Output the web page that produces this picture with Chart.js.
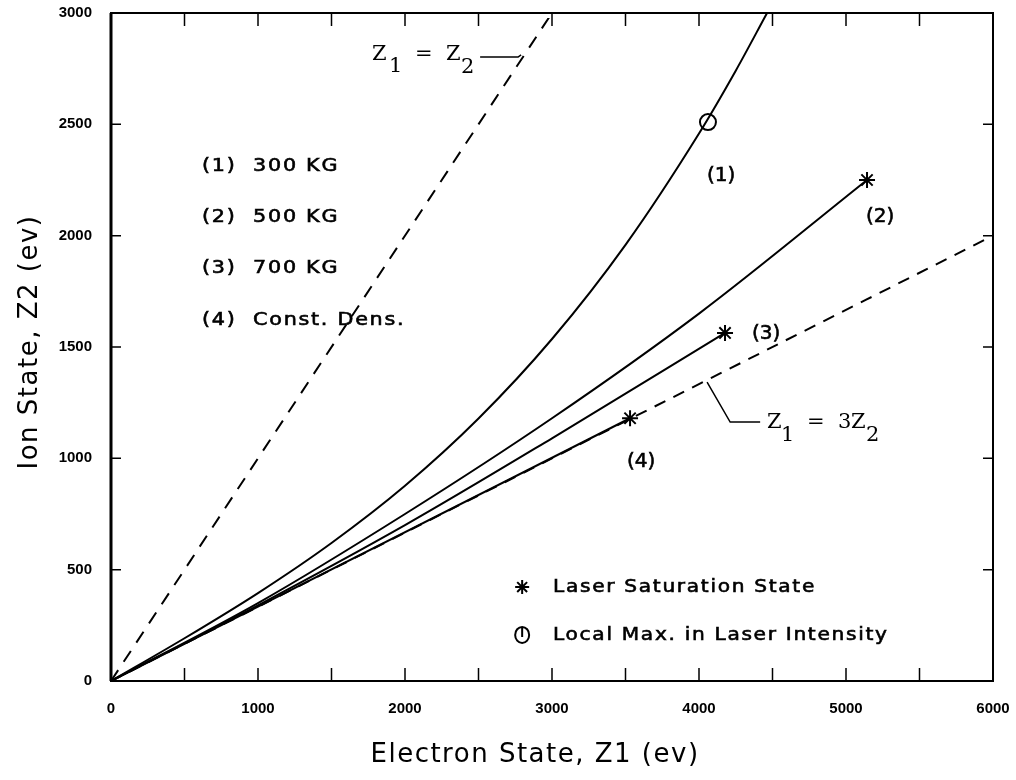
<!DOCTYPE html>
<html>
<head>
<meta charset="utf-8">
<script src="https://cdn.jsdelivr.net/npm/chart.js@4.4.1/dist/chart.umd.min.js"></script>
<style>
  html, body { margin: 0; padding: 0; background: #fff; }
  #wrap { width: 1016px; height: 780px; }
</style>
</head>
<body>
<div id="wrap"><canvas id="chart" width="1016" height="780"></canvas></div>
<script>
// tick labels
const xTickLabels = [0, 1000, 2000, 3000, 4000, 5000, 6000];
const yTickLabels = [0, 500, 1000, 1500, 2000, 2500, 3000];

// (1) 300 KG
const c1X = [0, 500, 1000, 1500, 2000, 2500, 3000, 3500, 4000, 4250, 4463];
const c1Y = [0, 192, 395, 620, 877, 1179, 1536, 1959, 2459, 2741, 3000];
// (2) 500 KG
const c2X = [0, 1000, 2000, 3000, 4000, 5143];
const c2Y = [0, 350, 750, 1180, 1650, 2250];
// (3) 700 KG
const c3X = [0, 1000, 2000, 3000, 4177];
const c3Y = [0, 340, 700, 1090, 1563];
// (4) Const. Dens.
const c4X = [0, 3531];
const c4Y = [0, 1180];
// Z1 = Z2 and Z1 = 3Z2
const eqX = [0, 3000];
const eqY = [0, 3000];
const thirdX = [0, 6000];
const thirdY = [0, 2000];
// Laser saturation state (stars) and local max in laser intensity (circle)
const satX = [5143, 4177, 3531];
const satY = [2250, 1563, 1180];
const maxX = [4061];
const maxY = [2510];

const legendLines = ['(1)  300 KG', '(2)  500 KG', '(3)  700 KG', '(4)  Const. Dens.'];
const curveNames = ['(1)', '(2)', '(3)', '(4)'];

function pts(xs, ys) {
  return xs.map((x, i) => ({ x: x, y: ys[i] }));
}

function lineSet(xs, ys, dash) {
  return {
    data: pts(xs, ys),
    showLine: true,
    borderColor: '#000',
    borderWidth: 2,
    borderDash: dash || [],
    pointRadius: 0,
    cubicInterpolationMode: 'monotone',
    fill: false
  };
}

function drawText(ctx, str, x, y, o) {
  ctx.save();
  ctx.font = o.font;
  ctx.letterSpacing = (o.ls || 0) + 'px';
  ctx.textAlign = o.align || 'left';
  ctx.textBaseline = o.baseline || 'middle';
  ctx.fillStyle = '#000';
  ctx.strokeStyle = '#000';
  ctx.translate(x, y);
  if (o.rot) ctx.rotate(o.rot);
  ctx.scale(o.sx || 1, 1);
  ctx.fillText(str, 0, 0);
  if (o.bold) {
    ctx.lineWidth = o.bold;
    ctx.strokeText(str, 0, 0);
  }
  ctx.restore();
}

const labelFont = '18px "DejaVu Sans"';
const zFont = '21px "DejaVu Serif"';

const decorations = {
  id: 'decorations',
  afterDatasetsDraw(chart) {
    const ctx = chart.ctx;
    const a = chart.chartArea;
    const xs = chart.scales.x;
    const ys = chart.scales.y;
    const px = v => xs.getPixelForValue(v);
    const py = v => ys.getPixelForValue(v);

    ctx.save();
    ctx.strokeStyle = '#000';
    // frame
    ctx.lineWidth = 2;
    ctx.strokeRect(a.left, a.top, a.right - a.left, a.bottom - a.top);
    ctx.lineWidth = 3;
    ctx.beginPath();
    ctx.moveTo(a.left, a.top);
    ctx.lineTo(a.left, a.bottom);
    ctx.stroke();

    // inward ticks
    ctx.lineWidth = 1.5;
    ctx.beginPath();
    xs.ticks.forEach(t => {
      const x = px(t.value);
      ctx.moveTo(x, a.bottom); ctx.lineTo(x, a.bottom - 13);
      ctx.moveTo(x, a.top); ctx.lineTo(x, a.top + 13);
    });
    ys.ticks.forEach(t => {
      const y = py(t.value);
      ctx.moveTo(a.left, y); ctx.lineTo(a.left + 10, y);
      ctx.moveTo(a.right, y); ctx.lineTo(a.right - 10, y);
    });
    ctx.stroke();

    // leader lines for the dashed reference lines
    ctx.lineWidth = 1.5;
    ctx.beginPath();
    ctx.moveTo(px(2511), py(2802));
    ctx.lineTo(px(2769), py(2802));
    ctx.lineTo(px(2790), py(2812));
    ctx.moveTo(px(4055), py(1342));
    ctx.lineTo(px(4212), py(1163));
    ctx.lineTo(px(4416), py(1163));
    ctx.stroke();

    // Z1 = Z2
    const z1x = px(1783) - 1, z1y = py(2789);
    [['Z', 0, 0], ['1', 17, 12], ['=', 43, 0], ['Z', 74, 0], ['2', 89, 13]].forEach(p => {
      drawText(ctx, p[0], z1x + p[1], z1y + p[2], { font: zFont, baseline: 'alphabetic' });
    });
    // Z1 = 3Z2
    const z2x = px(4470) - 1, z2y = py(1136);
    [['Z', 0, 0], ['1', 14, 13], ['=', 40, 0], ['3', 71, 0], ['Z', 84, 0], ['2', 99, 13]].forEach(p => {
      drawText(ctx, p[0], z2x + p[1], z2y + p[2], { font: zFont, baseline: 'alphabetic' });
    });

    // legend block, upper left
    const legY = [2313, 2084, 1855, 1621];
    legendLines.forEach((s, i) => {
      drawText(ctx, s, px(619), py(legY[i]), { font: labelFont, ls: 1.5, sx: 1.15, bold: 0.6 });
    });

    // curve labels
    const cl = [[4150, 2268], [5232, 2084], [4457, 1558], [3606, 984]];
    curveNames.forEach((s, i) => {
      drawText(ctx, s, px(cl[i][0]), py(cl[i][1]), { font: '20px "DejaVu Sans"', align: 'center', bold: 0.6 });
    });

    // marker legend, lower right
    const mx = px(2797);
    const sy = py(422), cy = py(207);
    ctx.lineWidth = 2;
    ctx.beginPath();
    const r = 7;
    for (let k = 0; k < 4; k++) {
      const ang = k * Math.PI / 4;
      ctx.moveTo(mx - r * Math.cos(ang), sy - r * Math.sin(ang));
      ctx.lineTo(mx + r * Math.cos(ang), sy + r * Math.sin(ang));
    }
    ctx.stroke();
    ctx.beginPath();
    ctx.ellipse(mx, cy, 7, 8, 0, 0, Math.PI * 2);
    ctx.moveTo(mx, cy - 8);
    ctx.lineTo(mx, cy + 2);
    ctx.stroke();
    drawText(ctx, 'Laser Saturation State', px(3007), sy, { font: labelFont, ls: 1.5, sx: 1.12, bold: 0.6 });
    drawText(ctx, 'Local Max. in Laser Intensity', px(3007), cy, { font: labelFont, ls: 1.5, sx: 1.12, bold: 0.6 });

    // axis titles
    drawText(ctx, 'Electron State, Z1 (ev)', 535, 755, { font: '26px "DejaVu Sans"', ls: 1.5, align: 'center' });
    drawText(ctx, 'Ion State, Z2 (ev)', 30, 342, { font: '26px "DejaVu Sans"', ls: 1.5, align: 'center', rot: -Math.PI / 2 });
    ctx.restore();
  }
};

function noPad(s) {
  s.paddingTop = 0;
  s.paddingBottom = 0;
  s.paddingLeft = 0;
  s.paddingRight = 0;
}

new Chart(document.getElementById('chart'), {
  type: 'scatter',
  data: {
    datasets: [
      {
        data: pts(satX, satY),
        pointStyle: 'star',
        pointRadius: 8,
        borderColor: '#000',
        borderWidth: 2,
        backgroundColor: '#000'
      },
      {
        data: pts(maxX, maxY),
        pointStyle: 'circle',
        pointRadius: 8,
        borderColor: '#000',
        borderWidth: 2,
        backgroundColor: 'rgba(0,0,0,0)'
      },
      lineSet(c1X, c1Y),
      lineSet(c2X, c2Y),
      lineSet(c3X, c3Y),
      lineSet(c4X, c4Y),
      lineSet(eqX, eqY, [13, 10]),
      lineSet(thirdX, thirdY, [12, 9])
    ]
  },
  options: {
    responsive: false,
    animation: false,
    events: [],
    layout: { padding: { left: 0, right: 23, top: 13, bottom: 0 } },
    plugins: { legend: { display: false }, tooltip: { enabled: false } },
    scales: {
      x: {
        type: 'linear',
        min: 0,
        max: 6000,
        grid: { display: false, drawTicks: false },
        border: { display: false },
        ticks: {
          stepSize: 500,
          autoSkip: false,
          maxRotation: 0,
          padding: 19,
          color: '#000',
          font: { family: 'Liberation Sans', size: 15, weight: 'bold' },
          callback: v => xTickLabels.includes(v) ? String(v) : ''
        },
        afterFit: s => { s.height = 99; noPad(s); }
      },
      y: {
        type: 'linear',
        min: 0,
        max: 3000,
        grid: { display: false, drawTicks: false },
        border: { display: false },
        ticks: {
          stepSize: 500,
          autoSkip: false,
          padding: 19,
          color: '#000',
          font: { family: 'Liberation Sans', size: 15, weight: 'bold' },
          callback: v => yTickLabels.includes(v) ? String(v) : ''
        },
        afterFit: s => { s.width = 111; noPad(s); }
      }
    }
  },
  plugins: [decorations]
});
</script>
</body>
</html>
